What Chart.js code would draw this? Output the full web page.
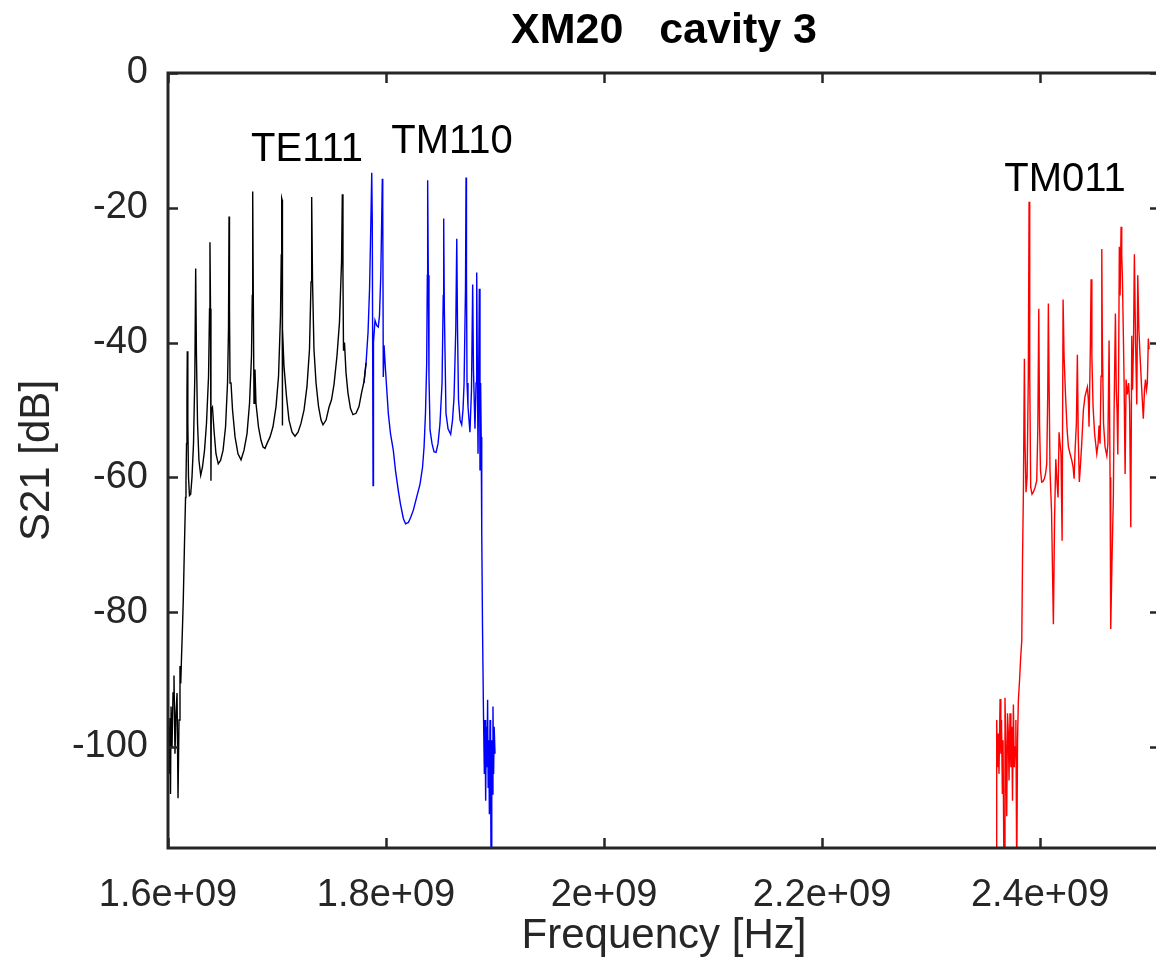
<!DOCTYPE html>
<html>
<head>
<meta charset="utf-8">
<title>XM20 cavity 3</title>
<script src="https://cdn.jsdelivr.net/npm/chart.js@4/dist/chart.umd.min.js"></script>
<style>
  html, body { margin: 0; padding: 0; background: #fff; overflow: hidden; }
  #wrap { width: 1170px; height: 962px; }
</style>
</head>
<body>
<div id="wrap"><canvas id="chart" width="1170" height="962"></canvas></div>
<script>
/* ---- data : [frequency (MHz), S21 (dB)] ---- */
const te111Trace = [
  [1600.0,-97],[1600.9,-104],[1601.8,-95.7],[1602.3,-107],[1602.8,-94],[1603.7,-100],[1604.6,-92],
  [1605.5,-89.4],[1606.4,-101],[1607.3,-95],[1608.3,-92],[1609.2,-107.6],[1610.1,-96],[1611.0,-88],
  [1611.7,-90.6],[1612.4,-86.7],[1613.1,-83.2],[1614.0,-78.3],[1615.1,-70],[1616.1,-63],[1616.5,-60.5],
  [1617.0,-55],[1617.4,-48],[1617.7,-41.3],[1618.2,-52],[1618.8,-60],[1619.7,-62.7],[1620.8,-62.5],
  [1622.0,-60],[1623.4,-55],[1624.6,-45],[1625.4,-29],[1626.1,-42],[1627.1,-52],[1628.4,-57.5],
  [1630.0,-59.7],[1631.6,-58.5],[1633.5,-56],[1635.3,-52],[1637.2,-45],[1638.1,-35],[1638.5,-25.1],
  [1639.0,-35],[1639.4,-60.5],[1639.7,-50],[1640.8,-49.6],[1642.2,-53],[1644.0,-56.5],[1646.1,-58],
  [1648.2,-57.5],[1650.5,-56],[1652.8,-52.5],[1654.6,-46],[1655.5,-38],[1656.0,-21.3],[1656.4,-35],
  [1656.9,-46],[1657.8,-46],[1659.2,-50],[1661.5,-54],[1664.2,-56.5],[1667.0,-57.4],[1669.7,-56],
  [1672.5,-53.5],[1674.8,-49],[1676.6,-42],[1677.3,-33],[1677.7,-17.6],[1678.2,-32],[1678.9,-49],
  [1679.8,-44],[1680.7,-49],[1683.0,-52.5],[1685.3,-54.5],[1687.2,-55.5],[1689.0,-55.7],[1690.8,-55],
  [1693.6,-54],[1696.3,-52.5],[1699.1,-49.5],[1701.4,-45],[1703.2,-36],[1703.9,-27],[1704.3,-18.6],
  [1704.6,-18.8],[1704.9,-52.3],[1705.1,-38],[1706.4,-43.5],[1708.7,-48],[1711.0,-51.5],[1713.8,-53.3],
  [1716.5,-53.9],[1719.3,-53.3],[1722.0,-52],[1724.8,-50],[1727.5,-46.5],[1729.8,-41],[1731.2,-31],
  [1731.8,-18.4],[1732.6,-31],[1733.9,-41],[1735.8,-46],[1738.1,-49.5],[1740.4,-51.5],[1742.2,-52.2],
  [1745.0,-51.5],[1747.7,-49.6],[1750.0,-48.5],[1752.3,-46.2],[1755.0,-42],[1757.3,-37],[1759.2,-28],
  [1759.9,-18],[1760.5,-30],[1761.0,-41.2],[1761.9,-40],[1763.3,-44.5],[1765.1,-47.5],[1767.4,-49.8],
  [1769.7,-50.7],[1772.5,-50.5],[1775.2,-49.5],[1777.5,-47.5],[1779.8,-45.8],[1781.7,-43]
];
const tm110Trace = [
  [1779.8,-46],[1781.7,-43],[1783.5,-38.5],[1784.9,-32],[1786.0,-23],[1786.9,-14.8],[1787.4,-22],
  [1788.1,-61.2],[1788.5,-40],[1789.9,-36.7],[1791.5,-37.5],[1792.9,-37.7],[1794.0,-36],[1795.2,-30],
  [1796.0,-22],[1796.6,-15.7],[1797.0,-20],[1797.5,-45.1],[1798.2,-40.4],[1799.5,-44],[1802.1,-50.5],
  [1804.1,-53.5],[1806.7,-56],[1808.7,-59],[1811.3,-62],[1813.3,-64],[1815.9,-66.1],[1817.9,-66.9],
  [1820.5,-66.7],[1822.5,-66],[1825.0,-64.9],[1828.0,-63],[1831.2,-61],[1833.5,-58.5],[1834.9,-55.5],
  [1836.2,-50.5],[1837.3,-43.1],[1837.9,-30],[1838.2,-15.9],[1838.8,-30],[1839.4,-45],[1840.4,-53],
  [1842.2,-55],[1844.0,-56.2],[1845.9,-56.3],[1847.7,-55],[1849.5,-52],[1851.4,-46],[1852.5,-33],
  [1852.9,-21.6],[1853.5,-35],[1855.0,-50.5],[1856.9,-52.8],[1859.3,-53.6],[1861.0,-51.5],[1862.4,-48.1],
  [1864.0,-38],[1864.9,-24.6],[1865.6,-38],[1866.5,-48.5],[1867.9,-51.5],[1869.4,-52.2],[1870.6,-50],
  [1871.6,-46.1],[1872.9,-32],[1873.4,-15.5],[1873.8,-30],[1874.3,-46],[1875.2,-49.5],[1877.0,-53.3],
  [1878.4,-47],[1879.5,-31.4],[1880.2,-44],[1881.6,-52.8],[1882.6,-46],[1883.2,-29.6],[1883.7,-42],
  [1884.4,-56.5],[1885.6,-32],[1886.2,-59],[1886.8,-46],[1887.3,-54],[1887.8,-67.9],[1888.5,-82],
  [1889.4,-95],[1890.2,-104],[1890.8,-96],[1891.4,-108],[1892.0,-97],[1892.6,-103],[1893.2,-93],
  [1893.7,-106],[1894.3,-99],[1894.8,-110],[1895.4,-96],[1895.9,-101],[1896.5,-125],[1897.0,-99],
  [1897.6,-107],[1898.1,-94],[1898.7,-104],[1899.2,-97],[1900.0,-101]
];
const tm011Trace = [
  [2359.6,-118],[2360.2,-96],[2360.9,-103],[2361.7,-98],[2362.3,-104],[2363.3,-92.9],[2364.0,-101],
  [2364.6,-96],[2365.4,-107],[2366.0,-99],[2366.9,-120],[2367.8,-92.7],[2368.6,-100],[2369.4,-110.3],
  [2370.1,-95],[2370.9,-98],[2371.5,-105],[2372.4,-95],[2373.2,-103],[2374.0,-97],[2374.7,-108],
  [2375.5,-93.7],[2376.3,-103],[2377.0,-100],[2377.8,-96],[2378.6,-120],[2379.3,-99],[2380.1,-93],
  [2381.2,-90],[2382.1,-87],[2383.2,-84.2],[2383.9,-72],[2384.7,-62],[2385.6,-42.4],[2386.2,-55],
  [2387.1,-62.2],[2388.1,-60],[2389.2,-45],[2389.9,-19.1],[2390.5,-45],[2391.4,-61.5],[2392.6,-62.5],
  [2393.8,-62.2],[2395.4,-61.5],[2396.9,-60.5],[2397.9,-53],[2398.8,-35],[2399.5,-52],[2400.4,-59],
  [2401.5,-60.7],[2402.7,-60.6],[2403.9,-60.2],[2405.0,-59.5],[2406.1,-58],[2407.0,-48],[2407.6,-34.2],
  [2408.2,-45],[2409.1,-59],[2410.5,-65],[2412.2,-81.8],[2413.3,-66],[2414.4,-57.3],[2415.6,-61],
  [2416.5,-63],[2417.4,-53.3],[2418.3,-55],[2419.2,-56.5],[2420.2,-69.4],[2421.1,-33.6],[2422.0,-42.1],
  [2423.4,-48],[2424.8,-53],[2426.0,-55.5],[2427.5,-56.5],[2429.1,-57.5],[2430.3,-58.5],[2431.2,-60.2],
  [2432.1,-56],[2433.3,-52],[2434.2,-41.8],[2435.0,-54],[2436.0,-60.7],[2437.1,-58],[2438.2,-55],
  [2439.7,-50],[2441.2,-48],[2443.4,-46.6],[2444.3,-48.5],[2444.9,-52.5],[2446.0,-42],[2446.8,-30.6],
  [2447.5,-42],[2448.6,-49.5],[2450.0,-53.5],[2452.0,-56.5],[2453.2,-55],[2454.1,-52.3],[2455.0,-55],
  [2455.9,-45],[2456.6,-26.1],[2457.1,-40],[2458.2,-52],[2459.6,-55.5],[2461.2,-56.8],[2462.2,-55],
  [2463.3,-39.7],[2464.2,-60],[2464.8,-82.5],[2466.0,-72],[2467.2,-63],[2467.9,-50],[2469.1,-35.7],
  [2469.9,-47],[2470.6,-50],[2471.3,-56.6],[2472.0,-45],[2472.7,-25.8],[2473.4,-33],[2474.3,-22.8],
  [2474.9,-27],[2475.5,-30.3],[2476.3,-38],[2477.0,-45],[2478.0,-59.5],[2478.9,-45.5],[2480.0,-47.7],
  [2481.2,-46],[2482.1,-49],[2483.2,-67.4],[2484.1,-39],[2484.8,-47],[2485.7,-40],[2486.5,-26.9],
  [2487.6,-40],[2488.7,-49.2],[2489.6,-30],[2490.6,-38],[2491.7,-42],[2493.1,-46.5],[2494.7,-51.3],
  [2495.8,-47],[2496.7,-45.5],[2497.6,-47],[2498.4,-46],[2499.3,-39.4],[2500.0,-41]
];

const xTicks = [1.6e9, 1.8e9, 2.0e9, 2.2e9, 2.4e9];
const yTicks = [-100, -80, -60, -40, -20, 0];
// mode name, frequency (MHz), dB
const modeLabels = [
  ['TE111', 1727.5, -11.4],
  ['TM110', 1860.5, -10.3],
  ['TM011', 2422.9, -15.9]
];

const FONT = "'Liberation Sans', Arial, Helvetica, sans-serif";
const AXIS = '#262626';

function toPoints(trace) {
  return trace.map(p => ({ x: p[0] * 1e6, y: p[1] }));
}

// box, inward ticks, mode labels, title
const framePlugin = {
  id: 'frame',
  afterDraw(chart) {
    const { ctx, chartArea: a, scales: { x, y } } = chart;
    ctx.save();
    ctx.strokeStyle = AXIS;
    ctx.lineWidth = 3;
    ctx.strokeRect(a.left, a.top, a.right - a.left, a.bottom - a.top);
    ctx.lineWidth = 2.5;
    ctx.beginPath();
    xTicks.forEach(v => {
      const px = Math.round(x.getPixelForValue(v)) + 0.5;
      ctx.moveTo(px, a.bottom); ctx.lineTo(px, a.bottom - 10);
      ctx.moveTo(px, a.top);    ctx.lineTo(px, a.top + 10);
    });
    yTicks.forEach(v => {
      const py = Math.round(y.getPixelForValue(v)) + 0.5;
      ctx.moveTo(a.left, py);  ctx.lineTo(a.left + 10, py);
      ctx.moveTo(a.right, py); ctx.lineTo(a.right - 10, py);
    });
    ctx.stroke();

    ctx.fillStyle = '#000';
    ctx.textAlign = 'center';
    ctx.textBaseline = 'middle';
    ctx.font = '40px ' + FONT;
    modeLabels.forEach(([t, f, db]) => {
      ctx.fillText(t, x.getPixelForValue(f * 1e6), y.getPixelForValue(db));
    });

    ctx.font = 'bold 43px ' + FONT;
    ctx.fillText('XM20   cavity 3', (a.left + a.right) / 2, 31);
    ctx.restore();
  }
};

new Chart(document.getElementById('chart'), {
  type: 'line',
  data: {
    datasets: [
      { data: toPoints(te111Trace), borderColor: '#000000' },
      { data: toPoints(tm110Trace), borderColor: '#0000ff' },
      { data: toPoints(tm011Trace), borderColor: '#ff0000' }
    ]
  },
  options: {
    responsive: false,
    animation: false,
    parsing: false,
    layout: { padding: { left: 0, right: 10, top: 73, bottom: 0 } },
    elements: {
      line: { borderWidth: 1.4, tension: 0 },
      point: { radius: 0, hoverRadius: 0 }
    },
    plugins: { legend: { display: false }, tooltip: { enabled: false } },
    scales: {
      x: {
        type: 'linear',
        min: 1.6e9,
        max: 2.51e9,
        grid: { display: false, drawTicks: false },
        border: { display: false },
        afterBuildTicks: s => { s.ticks = xTicks.map(v => ({ value: v })); },
        afterFit: s => { s.height = 114; },
        ticks: {
          padding: 25,
          maxRotation: 0,
          autoSkip: false,
          color: AXIS,
          font: { family: FONT, size: 38 },
          callback: v => (v / 1e9) + 'e+09'
        },
        title: {
          display: true,
          text: 'Frequency [Hz]',
          color: AXIS,
          font: { family: FONT, size: 42 },
          padding: { top: 0, bottom: 0 }
        }
      },
      y: {
        min: -115,
        max: 0,
        grid: { display: false, drawTicks: false },
        border: { display: false },
        afterBuildTicks: s => { s.ticks = yTicks.map(v => ({ value: v })); },
        afterFit: s => { s.width = 168; },
        ticks: {
          padding: 20,
          color: AXIS,
          font: { family: FONT, size: 38 }
        },
        title: {
          display: true,
          text: 'S21 [dB]',
          color: AXIS,
          font: { family: FONT, size: 42 },
          padding: { top: 12, bottom: 0 }
        }
      }
    }
  },
  plugins: [framePlugin]
});
</script>
</body>
</html>
